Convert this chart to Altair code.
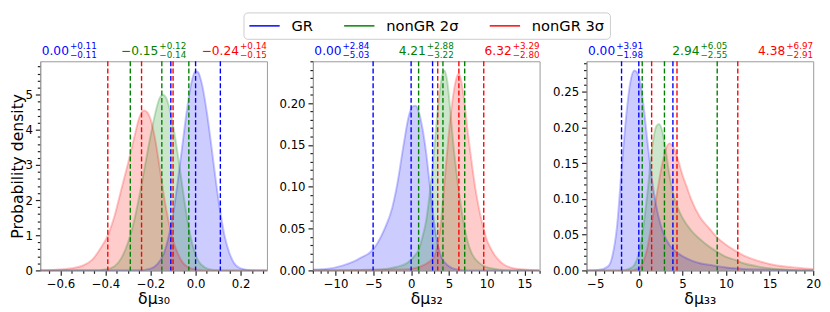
import json
import altair as alt
import pandas as pd

SERIES = ["GR", "nonGR 2σ", "nonGR 3σ"]
COLORS = ["#0000ff", "#008000", "#ff0000"]

# ---------------- panel δμ30 ----------------
mu30_gr_x = [-0.69, -0.25, -0.20, -0.17, -0.14, -0.12, -0.10, -0.08, -0.06, -0.04, -0.02, 0.0, 0.01, 0.03, 0.05, 0.07, 0.09, 0.11, 0.13, 0.15, 0.17, 0.20, 0.25, 0.317]
mu30_gr_y = [0.0, 0.005, 0.05, 0.18, 0.5, 0.95, 1.6, 2.5, 3.5, 4.5, 5.3, 5.67, 5.65, 5.25, 4.5, 3.55, 2.55, 1.65, 0.95, 0.5, 0.22, 0.06, 0.005, 0.0]
mu30_n2_x = [-0.69, -0.45, -0.40, -0.36, -0.33, -0.30, -0.27, -0.24, -0.21, -0.18, -0.16, -0.145, -0.13, -0.11, -0.09, -0.07, -0.05, -0.03, -0.01, 0.01, 0.04, 0.08, 0.12, 0.317]
mu30_n2_y = [0.0, 0.005, 0.03, 0.12, 0.35, 0.8, 1.5, 2.45, 3.5, 4.45, 4.9, 5.0, 4.9, 4.45, 3.75, 2.9, 2.0, 1.2, 0.65, 0.3, 0.09, 0.01, 0.0, 0.0]
mu30_n3_x = [-0.69, -0.62, -0.55, -0.50, -0.46, -0.42, -0.39, -0.36, -0.33, -0.30, -0.27, -0.25, -0.23, -0.215, -0.20, -0.18, -0.16, -0.14, -0.12, -0.10, -0.08, -0.06, -0.04, -0.01, 0.03, 0.08, 0.317]
mu30_n3_y = [0.005, 0.02, 0.06, 0.14, 0.3, 0.65, 1.0, 1.55, 2.3, 3.05, 3.85, 4.35, 4.55, 4.5, 4.3, 3.75, 2.95, 2.1, 1.4, 0.85, 0.5, 0.25, 0.12, 0.04, 0.005, 0.0, 0.0]
mu30_med = [0.00, -0.15, -0.24]
mu30_plus = [0.11, 0.12, 0.14]
mu30_minus = [0.11, 0.14, 0.15]
mu30_xticks = [-0.6, -0.4, -0.2, 0.0, 0.2]
mu30_yticks = [0, 1, 2, 3, 4, 5]

# ---------------- panel δμ32 ----------------
mu32_gr_x = [-13, -11, -9, -7.5, -6.5, -5.5, -4.5, -3.5, -2.5, -1.8, -1.0, -0.3, 0.2, 0.6, 1.0, 1.5, 2.0, 2.5, 3.0, 3.5, 4.0, 5.0, 6.0, 7.0, 17]
mu32_gr_y = [0.001, 0.002, 0.006, 0.011, 0.016, 0.021, 0.032, 0.05, 0.075, 0.105, 0.15, 0.185, 0.196, 0.197, 0.19, 0.17, 0.14, 0.1, 0.06, 0.032, 0.016, 0.005, 0.001, 0.0, 0.0]
mu32_n2_x = [-13, -4, -2, -0.5, 0.5, 1.0, 1.5, 2.0, 2.5, 3.0, 3.5, 4.0, 4.4, 4.8, 5.2, 5.6, 6.0, 6.5, 7.0, 7.5, 8.0, 9.0, 10, 11, 13, 17]
mu32_n2_y = [0.0, 0.001, 0.004, 0.009, 0.018, 0.025, 0.04, 0.06, 0.095, 0.14, 0.19, 0.228, 0.239, 0.225, 0.19, 0.15, 0.118, 0.083, 0.055, 0.034, 0.021, 0.009, 0.004, 0.002, 0.0, 0.0]
mu32_n3_x = [-13, -1, 1.0, 2.0, 3.0, 3.5, 4.0, 4.5, 5.0, 5.5, 6.0, 6.3, 6.6, 7.0, 7.5, 8.0, 8.5, 9.0, 9.5, 10.0, 10.5, 11.0, 12, 13, 15, 17]
mu32_n3_y = [0.0, 0.001, 0.004, 0.008, 0.016, 0.03, 0.062, 0.115, 0.165, 0.205, 0.23, 0.235, 0.228, 0.205, 0.165, 0.13, 0.098, 0.073, 0.053, 0.037, 0.027, 0.019, 0.009, 0.004, 0.001, 0.0]
mu32_med = [0.00, 4.21, 6.32]
mu32_plus = [2.84, 2.88, 3.29]
mu32_minus = [5.03, 3.22, 2.80]
mu32_xticks = [-10, -5, 0, 5, 10, 15]
mu32_yticks = [0.0, 0.05, 0.1, 0.15, 0.2]

# ---------------- panel δμ33 ----------------
mu33_gr_x = [-6, -4.5, -3.5, -3.0, -2.5, -2.0, -1.5, -1.0, -0.5, 0.0, 0.5, 1.0, 1.5, 2.0, 2.5, 3.0, 3.5, 4.0, 5.0, 6.0, 7.0, 8.5, 10, 12, 15, 20]
mu33_gr_y = [0.0, 0.001, 0.006, 0.022, 0.062, 0.138, 0.21, 0.262, 0.28, 0.272, 0.235, 0.18, 0.128, 0.09, 0.064, 0.047, 0.036, 0.029, 0.02, 0.014, 0.01, 0.007, 0.004, 0.002, 0.001, 0.0]
mu33_n2_x = [-6, -2, -1, -0.5, 0.0, 0.5, 1.0, 1.5, 2.0, 2.3, 2.7, 3.0, 3.5, 4.0, 4.5, 5.0, 6.0, 7.0, 8.0, 9.0, 10, 11, 12, 13.5, 15, 17, 20]
mu33_n2_y = [0.0, 0.0, 0.003, 0.008, 0.024, 0.06, 0.11, 0.17, 0.202, 0.205, 0.195, 0.175, 0.135, 0.105, 0.087, 0.074, 0.056, 0.044, 0.034, 0.026, 0.019, 0.015, 0.01, 0.006, 0.003, 0.001, 0.0]
mu33_n3_x = [-6, -1, 0.0, 0.5, 1.0, 1.5, 2.0, 2.5, 3.0, 3.5, 4.0, 4.5, 5.0, 5.5, 6.0, 7.0, 8.0, 9.0, 10.0, 11.0, 12.0, 13.5, 15, 17, 20]
mu33_n3_y = [0.0, 0.0, 0.003, 0.012, 0.033, 0.068, 0.102, 0.138, 0.166, 0.178, 0.172, 0.155, 0.134, 0.117, 0.1, 0.075, 0.06, 0.046, 0.036, 0.028, 0.021, 0.014, 0.009, 0.005, 0.002]
mu33_med = [0.00, 2.94, 4.38]
mu33_plus = [3.91, 6.05, 6.97]
mu33_minus = [1.98, 2.55, 2.91]
mu33_xticks = [-5, 0, 5, 10, 15, 20]
mu33_yticks = [0.0, 0.05, 0.1, 0.15, 0.2, 0.25]

# ---------------- helpers ----------------
PW, PH = 232, 214
MAIN_FS, SS_FS = 12.5, 9
CHARW = {"0": 0.636, "1": 0.636, "2": 0.636, "3": 0.636, "4": 0.636, "5": 0.636,
         "6": 0.636, "7": 0.636, "8": 0.636, "9": 0.636, ".": 0.318, "−": 0.838, "+": 0.838}


def tw(s, size):
    return sum(CHARW.get(c, 0.6) for c in s) * size


def ticks(lo, hi, step):
    out = []
    k = 0
    while True:
        v = round(lo + k * step, 6) + 0.0
        if v > hi + 1e-9:
            break
        out.append(v)
        k += 1
    return out


def mfmt(v):
    return f"{v:.2f}".replace("-", "−")


def make_axis(vals, majors, fmt, title, tpad):
    test = f"indexof({json.dumps(majors)}, datum.value) >= 0"
    return alt.Axis(values=vals, tickCount=1000,
                    labelExpr=f"({test}) ? format(datum.value, '{fmt}') : ''",
                    tickSize={"condition": {"test": test, "value": 5}, "value": 3},
                    labelOverlap=False, labelFlush=False, title=title, titlePadding=tpad)


LEGEND = alt.Legend(orient="none", legendX=208, legendY=-50, direction="horizontal", title=None,
                    symbolType="M-2.07,0H2.07", symbolSize=225, symbolOffset=8,
                    symbolStrokeWidth=1.5, symbolOpacity=1,
                    labelFontSize=15, labelFont="DejaVu Sans", labelOffset=19, columnPadding=27,
                    padding=5, strokeColor="#cccccc", fillColor="white", cornerRadius=4)


def panel(idx, curves, meds, plus, minus, xdom, ydom, xmaj, xstep, ymaj, ystep, xfmt, yfmt, xtitle, ytitle):
    rows = []
    for s, (xs, ys) in zip(SERIES, curves):
        for a, b in zip(xs, ys):
            rows.append({"x": a, "y": b, "s": s})
    cdf = pd.DataFrame(rows)

    xvals = ticks(xdom[0] + ((xmaj[0] - xdom[0]) % xstep), xdom[1], xstep)
    yvals = ticks(0, ydom[1], ystep)
    xscale = alt.Scale(domain=xdom, nice=False, zero=False)
    yscale = alt.Scale(domain=ydom, nice=False)
    xax = make_axis(xvals, xmaj, xfmt, xtitle, 2)
    yax = make_axis(yvals, ymaj, yfmt, ytitle, 0)

    base = alt.Chart(cdf)
    layers = []
    for i, s in enumerate(SERIES):
        layers.append(base.transform_filter(alt.datum.s == s).mark_area(
            color=COLORS[i], fillOpacity=0.2, interpolate="monotone", clip=True).encode(
            x=alt.X("x:Q", scale=xscale, axis=xax),
            y=alt.Y("y:Q", scale=yscale, axis=yax, stack=None)))
    line = base.mark_line(strokeOpacity=0.22, strokeWidth=2, interpolate="monotone", clip=True).encode(
        x="x:Q", y="y:Q",
        stroke=alt.Stroke("s:N", scale=alt.Scale(domain=SERIES, range=COLORS), legend=LEGEND),
    )
    layers.append(line)

    for i, s in enumerate(SERIES):
        rdf = pd.DataFrame({"x": [meds[i] - minus[i], meds[i], meds[i] + plus[i]]})
        layers.append(alt.Chart(rdf).mark_rule(color=COLORS[i], strokeWidth=1.4, strokeDash=[5, 2.5]).encode(x="x:Q"))

    for i, s in enumerate(SERIES):
        main = mfmt(meds[i])
        sup = "+" + f"{plus[i]:.2f}"
        sub = "−" + f"{minus[i]:.2f}"
        wm = tw(main, MAIN_FS)
        ws = max(tw(sup, SS_FS), tw(sub, SS_FS))
        if i == 0:
            anchor = 1.5 + wm
        elif i == 1:
            anchor = PW / 2 - (wm + 1 + ws) / 2 + wm
        else:
            anchor = PW - ws - 1
        tdf = pd.DataFrame({"main": [main], "sup": [sup], "sub": [sub]})
        tb = alt.Chart(tdf)
        layers.append(tb.mark_text(align="right", baseline="alphabetic", fontSize=MAIN_FS, color=COLORS[i]).encode(
            text="main:N", x=alt.value(anchor), y=alt.value(-6.7)))
        layers.append(tb.mark_text(align="left", baseline="alphabetic", fontSize=SS_FS, color=COLORS[i]).encode(
            text="sup:N", x=alt.value(anchor + 1), y=alt.value(-12.5)))
        layers.append(tb.mark_text(align="left", baseline="alphabetic", fontSize=SS_FS, color=COLORS[i]).encode(
            text="sub:N", x=alt.value(anchor + 1), y=alt.value(-3.5)))

    return alt.layer(*layers).properties(width=PW, height=PH)


p1 = panel(0, [(mu30_gr_x, mu30_gr_y), (mu30_n2_x, mu30_n2_y), (mu30_n3_x, mu30_n3_y)],
           mu30_med, mu30_plus, mu30_minus, [-0.69, 0.317], [0, 5.95],
           mu30_xticks, 0.05, mu30_yticks, 0.2, ".1f", "d", "δμ₃₀", "Probability density")
p2 = panel(1, [(mu32_gr_x, mu32_gr_y), (mu32_n2_x, mu32_n2_y), (mu32_n3_x, mu32_n3_y)],
           mu32_med, mu32_plus, mu32_minus, [-13, 17], [0, 0.25],
           mu32_xticks, 1, mu32_yticks, 0.01, "d", ".2f", "δμ₃₂", None)
p3 = panel(2, [(mu33_gr_x, mu33_gr_y), (mu33_n2_x, mu33_n2_y), (mu33_n3_x, mu33_n3_y)],
           mu33_med, mu33_plus, mu33_minus, [-6, 20], [0, 0.293],
           mu33_xticks, 1, mu33_yticks, 0.01, "d", ".2f", "δμ₃₃", None)

chart = alt.hconcat(p1, p2, p3, spacing=10).properties(
    padding={"left": 0, "top": 0, "right": 0, "bottom": 0}
).configure(font="DejaVu Sans").configure_view(stroke="#999999", strokeWidth=1).configure_axis(
    domainColor="#999999", tickColor="#222222", tickWidth=1.2, labelFontSize=12, titleFontSize=16,
    titleFontWeight="normal", labelColor="black", titleColor="black", grid=False, labelPadding=3,
    labelFont="DejaVu Sans", titleFont="DejaVu Sans"
)

chart.save("out.html", embed_options={"renderer": "svg", "actions": False})
